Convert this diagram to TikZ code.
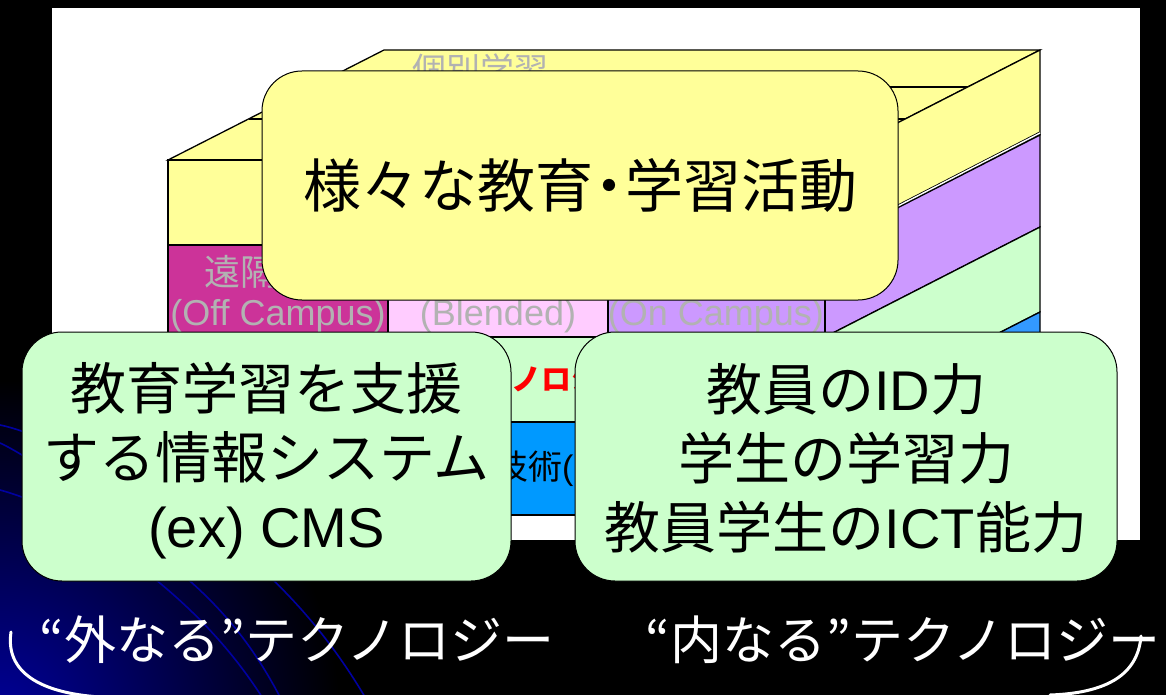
\documentclass[tikz,border=0pt]{standalone}
\usepackage{fontspec}
\setmainfont{Liberation Sans}
\newfontfamily\jp{Noto Sans CJK JP}
\definecolor{cyel}{HTML}{FFFF99}
\definecolor{cmag}{HTML}{CC3399}
\definecolor{cpink}{HTML}{FFCCFF}
\definecolor{cpur}{HTML}{CC99FF}
\definecolor{cgrn}{HTML}{CCFFCC}
\definecolor{cblue}{HTML}{0099FF}
\definecolor{cblueside}{HTML}{3399FF}
\definecolor{cgray}{HTML}{B2B2B2}
\definecolor{cnavy}{HTML}{0000A0}
\definecolor{cglow}{HTML}{00009A}
\tikzset{
  edge/.style={draw=black, line width=1.3pt},
  face/.style={draw=black, line width=1.3pt, line join=miter},
  ybox/.style={draw=black, line width=1pt, fill=cyel, rounded corners=40pt, inner sep=0pt},
  gbox/.style={draw=black, line width=1pt, fill=cgrn, rounded corners=40pt, inner sep=0pt},
  bigtxt/.style={align=center, inner sep=0pt, font=\fontsize{56}{69}\selectfont},
  graytxt/.style={text=cgray, inner sep=0pt},
  bottomtxt/.style={text=white, inner sep=0pt, font=\jp\fontsize{52}{60}\selectfont},
  swoosh/.style={draw=white, line width=3pt, line cap=round},
  bgline/.style={draw=cnavy, line width=1.6pt}
}
\begin{document}
\begin{tikzpicture}[x=1pt,y=-1pt]
\useasboundingbox (0,0) rectangle (1166,695);
\fill[black] (0,0) rectangle (1166,695);
\begin{scope}
  \clip (0,0) rectangle (1166,695);
  \shade[inner color=cglow, outer color=black] (0,720) circle (340pt);
\end{scope}
% decorative blue lines
\draw[bgline] (0,425) .. controls (15,428) and (30,434) .. (45,440);
\draw[bgline] (0,443) .. controls (15,450) and (30,460) .. (45,470);
\draw[bgline] (0,490) .. controls (15,494) and (30,500) .. (45,506);
\draw[bgline] (150,575) .. controls (200,615) and (235,655) .. (262,697);
\draw[bgline] (183,575) .. controls (230,615) and (258,655) .. (280,697);
\draw[bgline] (268,575) .. controls (310,615) and (340,655) .. (365,697);
% white panel
\fill[white] (52,8) rectangle (1140,540);
% top face
\filldraw[face, fill=cyel] (168,160) -- (384,50) -- (1040,50) -- (825,160) -- cycle;
\draw[edge] (313,87) -- (972,87) -- (972,112);
\draw[edge] (249,119) -- (909,119) -- (909,144);
% side faces
\filldraw[face, fill=cyel] (825,160) -- (1040,50) -- (1040,135) -- (825,245) -- cycle;
\filldraw[face, fill=cpur] (825,245) -- (1040,135) -- (1040,227) -- (825,337) -- cycle;
\filldraw[face, fill=cgrn] (825,337) -- (1040,227) -- (1040,312) -- (825,422) -- cycle;
\filldraw[face, fill=cblueside] (825,422) -- (1040,312) -- (1040,405) -- (825,515) -- cycle;
\draw[black, line width=0.8pt, double=white, double distance=1.4pt] (826,243) -- (1040,133);
% front face rows
\filldraw[face, fill=cyel] (168,160) rectangle (825,245);
\filldraw[face, fill=cmag] (168,245) rectangle (388,337);
\filldraw[face, fill=cpink] (388,245) rectangle (608,337);
\filldraw[face, fill=cpur] (608,245) rectangle (825,337);
\filldraw[face, fill=cgrn] (168,337) rectangle (825,422);
\filldraw[face, fill=cblue] (168,422) rectangle (825,515);
% texts on the block
\node[graytxt, font=\jp\fontsize{34}{40}\selectfont] (kobetsu) at (480,70) {個別学習};
\node[graytxt, anchor=west, font=\jp\fontsize{36}{40}\selectfont] (enkaku) at (204,272) {遠隔};
\node[graytxt, font=\fontsize{36}{40}\selectfont] (offc) at (278,316) {(Off Campus)};
\node[graytxt, font=\fontsize{36}{40}\selectfont] (blend) at (498,316) {(Blended)};
\node[graytxt, font=\fontsize{36}{40}\selectfont] (onc) at (716,316) {(On Campus)};
\node[anchor=west, text=red, inner sep=0pt, font=\jp\bfseries\fontsize{30}{34}\selectfont] (techno) at (511,379) {ノロジ};
\node[anchor=west, inner sep=0pt, font=\fontsize{34}{38}\selectfont] (gijutsu) at (494,469) {{\jp 技術}(};
% yellow activity box
\node[ybox, minimum width=636pt, minimum height=229pt] (act) at (580,185.5) {};
\node[align=center, inner sep=0pt, font=\jp\fontsize{58}{69}\selectfont] (acttxt) at (act.center) {様々な教育\kern-13pt・\kern-13pt学習活動};
% green boxes
\node[gbox, minimum width=489pt, minimum height=249pt] (sys) at (266.5,456.5) {};
\node[bigtxt] (systxt) at ([yshift=-4pt]sys.center) {{\jp 教育学習を支援}\\{\jp する情報システム}\\(ex) CMS};
\node[gbox, minimum width=542pt, minimum height=249pt] (abil) at (846,456.5) {};
\node[bigtxt] (abiltxt) at ([yshift=-2pt]abil.center) {{\jp 教員の}ID{\jp 力}\\{\jp 学生の学習力}\\{\jp 教員学生の}ICT{\jp 能力}};
% bottom labels
\node[bottomtxt] (outer) at (297,640) {“外なる”テクノロジー};
\node[bottomtxt] (inner) at (903,640) {“内なる”テクノロジー};
\draw[swoosh] (11,632) .. controls (5,672) and (40,693) .. (100,697);
\draw[swoosh] (1141,636) .. controls (1138,674) and (1108,693) .. (1050,695);
\end{tikzpicture}
\end{document}
